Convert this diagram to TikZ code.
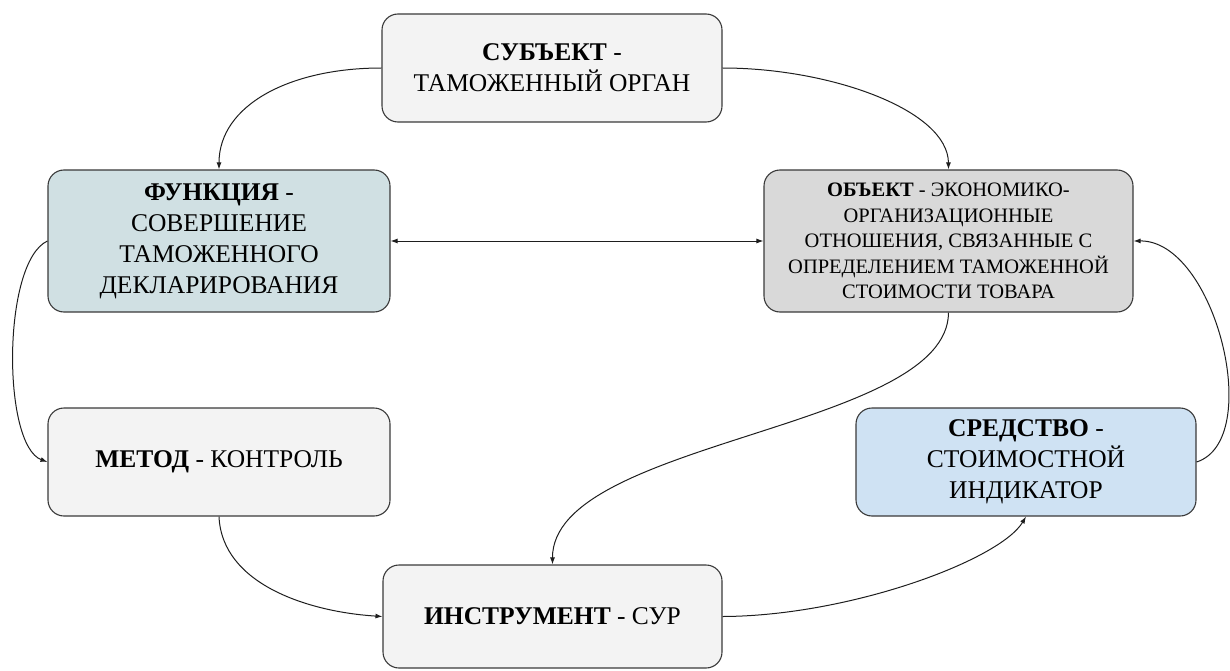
\documentclass[tikz,border=0pt]{standalone}
\usepackage{fontspec}
\setmainfont{Liberation Serif}
\usetikzlibrary{arrows.meta}

\definecolor{boxline}{HTML}{3A3A3A}
\definecolor{paleGray}{HTML}{F3F3F3}
\definecolor{midGray}{HTML}{D9D9D9}
\definecolor{tealGray}{HTML}{D0E0E3}
\definecolor{paleBlue}{HTML}{CFE2F3}
\definecolor{wire}{HTML}{1E1E1E}

\tikzset{
  card/.style={draw=boxline, line width=1.1pt, rounded corners=16pt,
    align=center, inner sep=0pt, font=\fontsize{25.5}{31}\selectfont},
  smallcard/.style={card, font=\fontsize{20.5}{25.5}\selectfont},
  link/.style={draw=wire, line width=1pt, -{Latex[length=7pt,width=5pt]}},
  duplex/.style={draw=wire, line width=1pt, {Latex[length=7pt,width=5pt]}-{Latex[length=7pt,width=5pt]}}
}

\begin{document}
\begin{tikzpicture}[x=1pt, y=-1pt]
  \useasboundingbox (0,0) rectangle (1230,671);

  % boxes
  \node[card, fill=paleGray, minimum width=340pt, minimum height=108pt]
    (subj) at (552,68) {\textbf{СУБЪЕКТ} -\\ТАМОЖЕННЫЙ ОРГАН};
  \node[card, fill=tealGray, minimum width=342pt, minimum height=142pt]
    (func) at (219,241) {\textbf{ФУНКЦИЯ} -\\СОВЕРШЕНИЕ\\ТАМОЖЕННОГО\\ДЕКЛАРИРОВАНИЯ};
  \node[smallcard, fill=midGray, minimum width=369pt, minimum height=142pt]
    (obj) at (948.5,241) {\textbf{ОБЪЕКТ} - ЭКОНОМИКО-\\ОРГАНИЗАЦИОННЫЕ\\ОТНОШЕНИЯ, СВЯЗАННЫЕ С\\ОПРЕДЕЛЕНИЕМ ТАМОЖЕННОЙ\\СТОИМОСТИ ТОВАРА};
  \node[card, fill=paleGray, minimum width=342pt, minimum height=108pt]
    (meth) at (219,462) {\textbf{МЕТОД} - КОНТРОЛЬ};
  \node[card, fill=paleBlue, minimum width=340pt, minimum height=108pt]
    (means) at (1026,462) {\textbf{СРЕДСТВО} -\\СТОИМОСТНОЙ\\ИНДИКАТОР};
  \node[card, fill=paleGray, minimum width=339pt, minimum height=103pt]
    (tool) at (552.5,616.5) {\textbf{ИНСТРУМЕНТ} - СУР};

  % connectors
  \draw[link] (subj.west) .. controls (290,68) and (219,105) .. (func.north);
  \draw[link] (subj.east) .. controls (830,68) and (948,110) .. (obj.north);
  \draw[duplex] (func.east) -- (obj.west);
  \draw[link] (func.west) .. controls (2,262) and (2,445) .. (meth.west);
  \draw[link] (obj.south) .. controls (948,430) and (552,440) .. (tool.north);
  \draw[link] (meth.south) .. controls (222,585) and (310,612) .. (tool.west);
  \draw[link] (tool.east) .. controls (850,616) and (1000,560) .. (means.south);
  \draw[link] (means.east) .. controls (1265,440) and (1215,240) .. (obj.east);
\end{tikzpicture}
\end{document}
